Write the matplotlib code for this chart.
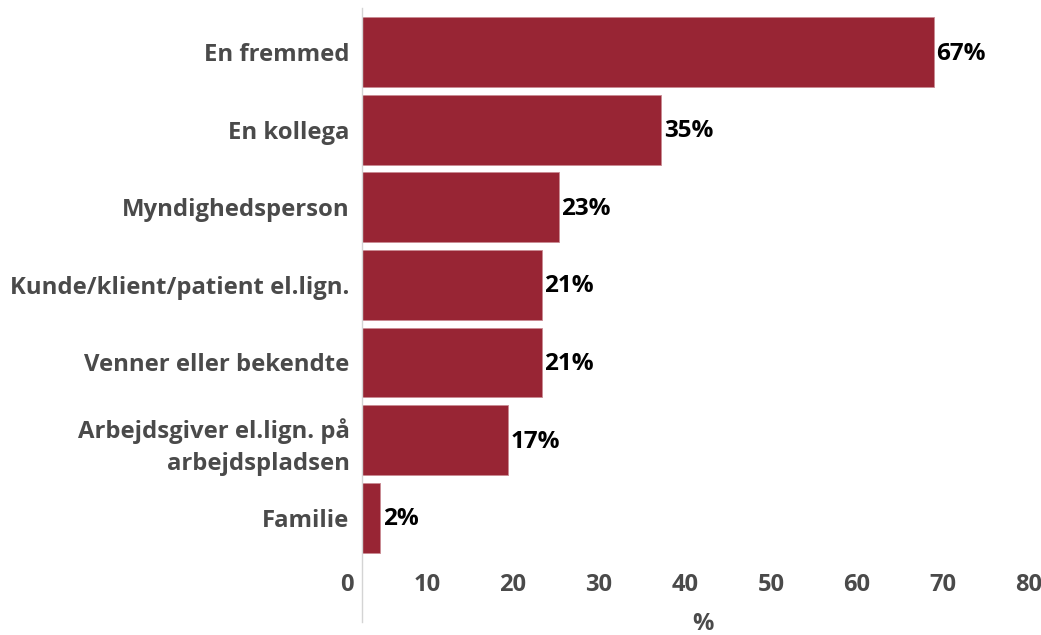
import matplotlib.pyplot as plt
import matplotlib.transforms as mtransforms
from matplotlib.lines import Line2D

categories = ["En fremmed", "En kollega", "Myndighedsperson",
              "Kunde/klient/patient el.lign.", "Venner eller bekendte",
              "Arbejdsgiver el.lign. på\narbejdspladsen", "Familie"]
values = [66.5, 34.8, 22.9, 20.9, 20.9, 17.0, 2.1]
value_labels = ["67%", "35%", "23%", "21%", "21%", "17%", "2%"]
xticks = [0, 10, 20, 30, 40, 50, 60, 70, 80]

BAR_COLOR = "#982534"
TEXT_GRAY = "#4a4a4a"
W, H = 1041, 635

plt.rcParams["font.family"] = ["Open Sans", "DejaVu Sans"]
plt.rcParams["font.weight"] = "bold"

fig = plt.figure(figsize=(W / 100, H / 100), dpi=100)
# axes box in pixel units (right edge runs past the figure like the original)
left, right, top, bottom = 362, 1050, 8, 565
ax = fig.add_axes([left / W, 1 - bottom / H, (right - left) / W, (bottom - top) / H])

ypos = list(range(len(categories)))
ax.barh(ypos, values, height=0.9, color=BAR_COLOR, edgecolor="#c98a92", linewidth=0.6)
ax.set_xlim(0, 80)
ax.set_ylim(6.61, -0.567)

for y, v, lab in zip(ypos, values, value_labels):
    ax.text(v + 0.3, y + 0.02, lab, va="center", ha="left", fontsize=17.5,
            fontweight="bold", color="black")

ax.set_yticks(ypos)
ax.set_yticklabels(categories, fontsize=17.2, fontweight="bold", color=TEXT_GRAY,
                   linespacing=1.45)
for t in ax.get_yticklabels():
    t.set_multialignment("right")

# x tick labels sit a little left of their ticks in the original
ax.set_xticks(xticks)
ax.set_xticklabels([])
xlab_y = -20 / (bottom - top)
for x in xticks:
    dx = -0.15 if x == 0 else -0.21
    tr = ax.get_xaxis_transform() + mtransforms.ScaledTranslation(dx, 0, fig.dpi_scale_trans)
    ax.text(x, xlab_y, str(x), transform=tr, ha="center", va="center",
            fontsize=17, fontweight="bold", color=TEXT_GRAY, clip_on=False)

ax.tick_params(axis="y", length=0, pad=9)
ax.tick_params(axis="x", length=0)
for s in ax.spines.values():
    s.set_visible(False)

# thin gray axis line that reaches below the tick labels
fig.add_artist(Line2D([left / W, left / W], [1 - 8 / H, 1 - 622 / H],
                      color="#d4d4d4", linewidth=1.0, transform=fig.transFigure))

fig.text(703 / W, 1 - 624 / H, "%", ha="center", va="center", fontsize=17,
         fontweight="bold", color=TEXT_GRAY)

fig.savefig("out.png", dpi=100)
